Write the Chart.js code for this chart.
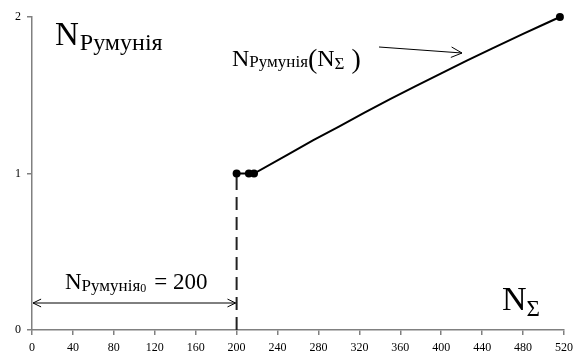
<!DOCTYPE html>
<html>
<head>
<meta charset="utf-8">
<script src="https://cdn.jsdelivr.net/npm/chart.js@4/dist/chart.umd.min.js"></script>
<style>
  body { margin: 0; background: #fff; }
  #wrap { width: 581px; height: 360px; }
</style>
</head>
<body>
<div id="wrap"><canvas id="chart" width="581" height="360"></canvas></div>
<script>
// curve N_Румунія(N_Σ)
const nSum = [200, 212, 217, 250, 275, 300, 325, 350, 375, 400, 425, 450, 480, 500, 516];
const nRom = [1, 1, 1, 1.12, 1.213, 1.30, 1.389, 1.475, 1.558, 1.64, 1.721, 1.80, 1.892, 1.952, 2];
const markers = [4, 4, 4, 0, 0, 0, 0, 0, 0, 0, 0, 0, 0, 0, 4];

// dashed jump at N_Румунія0
const jumpX = [200, 200];
const jumpY = [0, 1];

const xTicks = [0, 40, 80, 120, 160, 200, 240, 280, 320, 360, 400, 440, 480, 520];
const yTicks = [0, 1, 2];

const SERIF = "'Liberation Serif', 'Times New Roman', serif";

// draw a run of text pieces: [text, size, dy, extra gap]
function drawParts(ctx, x, y, parts) {
    parts.forEach(p => {
        ctx.font = p[1] + "px " + SERIF;
        ctx.fillText(p[0], x, y + (p[2] || 0));
        x += ctx.measureText(p[0]).width + (p[3] || 0);
    });
}

function arrowHead(ctx, x1, y1, x2, y2, len) {
    const a = Math.atan2(y2 - y1, x2 - x1);
    ctx.beginPath();
    ctx.moveTo(x2 - len * Math.cos(a - 0.45), y2 - len * Math.sin(a - 0.45));
    ctx.lineTo(x2, y2);
    ctx.lineTo(x2 - len * Math.cos(a + 0.45), y2 - len * Math.sin(a + 0.45));
    ctx.stroke();
}

const labelsPlugin = {
    id: "labels",
    afterDraw(chart) {
        const ctx = chart.ctx;
        const xs = chart.scales.x;
        ctx.save();
        ctx.fillStyle = "#000";
        ctx.strokeStyle = "#000";
        ctx.textBaseline = "alphabetic";

        // top-left axis name
        drawParts(ctx, 55, 45, [["N", 33, 0, 1], ["Румунія", 24, 5]]);

        // curve label
        drawParts(ctx, 232, 66, [["N", 24, 0, 0], ["Румунія", 17, 1], ["(", 28, 2], ["N", 24, 0, 0], ["Σ", 17, 3, 7], [")", 28, 2]]);
        ctx.lineWidth = 1;
        ctx.beginPath();
        ctx.moveTo(379, 47);
        ctx.lineTo(462, 53);
        ctx.stroke();
        arrowHead(ctx, 379, 47, 462, 53, 12);

        // N_Румунія0 = 200
        drawParts(ctx, 65, 289, [["N", 23, 0, 0], ["Румунія", 17, 2], ["0", 12, 3, 8], ["= 200", 23]]);
        const ya = 303;
        const xa = xs.getPixelForValue(0) + 1;
        const xb = xs.getPixelForValue(200) - 1;
        ctx.beginPath();
        ctx.moveTo(xa, ya);
        ctx.lineTo(xb, ya);
        ctx.stroke();
        arrowHead(ctx, xb, ya, xa, ya, 9);
        arrowHead(ctx, xa, ya, xb, ya, 9);

        // N_Σ
        drawParts(ctx, 502, 310, [["N", 34, 0, 0], ["Σ", 23, 6]]);
        ctx.restore();
    }
};

new Chart(document.getElementById("chart"), {
    type: "scatter",
    data: {
        datasets: [
            {
                data: nSum.map((v, i) => ({ x: v, y: nRom[i] })),
                showLine: true,
                clip: false,
                borderColor: "#000",
                borderWidth: 2,
                backgroundColor: "#000",
                pointRadius: markers,
                pointBorderWidth: 0,
                tension: 0
            },
            {
                data: jumpX.map((v, i) => ({ x: v, y: jumpY[i] })),
                showLine: true,
                borderColor: "#222",
                borderWidth: 2,
                borderDash: [13, 7],
                pointRadius: 0
            }
        ]
    },
    options: {
        responsive: false,
        animation: false,
        layout: { padding: { top: 17, right: 17, left: 0, bottom: 0 } },
        plugins: { legend: { display: false }, tooltip: { enabled: false } },
        scales: {
            x: {
                type: "linear",
                min: 0,
                max: 520,
                afterBuildTicks: s => { s.ticks = xTicks.map(v => ({ value: v })); },
                afterFit: s => { s.height = 30; },
                border: { color: "#808080", width: 1.5 },
                grid: { drawOnChartArea: false, drawTicks: true, tickLength: 5, color: "#808080", lineWidth: 1.5 },
                ticks: { color: "#000", padding: 6, maxRotation: 0, font: { family: SERIF, size: 12 } }
            },
            y: {
                type: "linear",
                min: 0,
                max: 2,
                afterBuildTicks: s => { s.ticks = yTicks.map(v => ({ value: v })); },
                afterFit: s => { s.width = 32; },
                border: { color: "#808080", width: 1.5 },
                grid: { drawOnChartArea: false, drawTicks: true, tickLength: 5, color: "#808080", lineWidth: 1.5 },
                ticks: { color: "#000", padding: 6, font: { family: SERIF, size: 12 } }
            }
        }
    },
    plugins: [labelsPlugin]
});
</script>
</body>
</html>
